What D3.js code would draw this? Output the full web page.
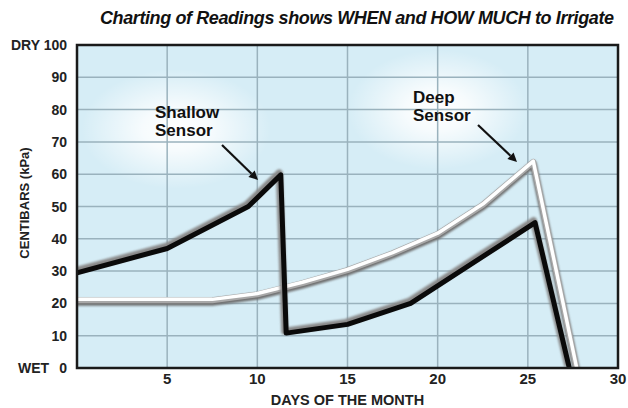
<!DOCTYPE html>
<html>
<head>
<meta charset="utf-8">
<script src="https://cdn.jsdelivr.net/npm/d3@7"></script>
<style>
  body { margin: 0; background: #fff; }
  svg { display: block; }
</style>
</head>
<body>
<script>
// readings
const shallowDays = [0, 5, 9.5, 11.3, 11.6, 15, 18.5, 25.4, 27.3];
const shallowKpa  = [29.5, 37, 50, 59.8, 10.8, 13.5, 20, 45, 0];
const deepDays = [0, 7.5, 10, 12.5, 15, 17.5, 20, 22.5, 25.3, 27.7];
const deepKpa  = [21, 21, 22.8, 26.3, 30.3, 35.5, 41.5, 50.5, 63.8, 0];
const xTicks = [5, 10, 15, 20, 25, 30];
const yTicks = [0, 10, 20, 30, 40, 50, 60, 70, 80, 90, 100];
const yTickLabels = ["0", "10", "20", "30", "40", "50", "60", "70", "80", "90", "DRY 100"];

const W = 628, H = 408;
const margin = { top: 45, right: 10, bottom: 40, left: 77 };
const width = W - margin.left - margin.right,
      height = H - margin.top - margin.bottom;

const svg = d3.select("body").append("svg")
    .attr("width", W).attr("height", H);

const defs = svg.append("defs");
const glow = defs.append("radialGradient").attr("id", "glow");
glow.append("stop").attr("offset", "0%").attr("stop-color", "#ffffff").attr("stop-opacity", 1);
glow.append("stop").attr("offset", "35%").attr("stop-color", "#ffffff").attr("stop-opacity", 0.8);
glow.append("stop").attr("offset", "100%").attr("stop-color", "#ffffff").attr("stop-opacity", 0);
defs.append("filter").attr("id", "blur")
    .append("feGaussianBlur").attr("stdDeviation", 1.2);
defs.append("clipPath").attr("id", "clip")
    .append("rect").attr("width", width).attr("height", height);

svg.append("text")
    .attr("x", 100).attr("y", 24)
    .attr("font-family", "Liberation Sans, Arial, sans-serif")
    .attr("font-weight", "bold").attr("font-style", "italic")
    .attr("font-size", 18).attr("letter-spacing", -0.4).attr("fill", "#111")
    .text("Charting of Readings shows WHEN and HOW MUCH to Irrigate");

const g = svg.append("g")
    .attr("transform", "translate(" + margin.left + "," + margin.top + ")");

const x = d3.scaleLinear().domain([0, 30]).range([0, width]);
const y = d3.scaleLinear().domain([0, 100]).range([height, 0]);

g.append("rect").attr("width", width).attr("height", height).attr("fill", "#d6edf6");

const pg = g.append("g").attr("clip-path", "url(#clip)");
// white glow behind the labels
pg.append("ellipse").attr("cx", x(5.5)).attr("cy", y(74)).attr("rx", 95).attr("ry", 60).attr("fill", "url(#glow)");
pg.append("ellipse").attr("cx", x(20)).attr("cy", y(80)).attr("rx", 90).attr("ry", 60).attr("fill", "url(#glow)");

// grid
pg.selectAll(".vg").data(xTicks.slice(0, -1)).enter().append("line")
    .attr("x1", d => x(d)).attr("x2", d => x(d))
    .attr("y1", 0).attr("y2", height)
    .attr("stroke", "#9ab2bd").attr("stroke-width", 1.5);
pg.selectAll(".hg").data(yTicks.slice(1, -1)).enter().append("line")
    .attr("x1", 0).attr("x2", width)
    .attr("y1", d => y(d)).attr("y2", d => y(d))
    .attr("stroke", "#9ab2bd").attr("stroke-width", 1.5);

const line = d3.line().x(d => x(d[0])).y(d => y(d[1]));
const deep = deepDays.map((d, i) => [d, deepKpa[i]]);
const shallow = shallowDays.map((d, i) => [d, shallowKpa[i]]);

// deep sensor: white with grey edge
pg.append("path").datum(deep).attr("d", line)
    .attr("transform", "translate(0,2)")
    .attr("fill", "none").attr("stroke", "#6f6f6f").attr("stroke-width", 7)
    .attr("stroke-linejoin", "round").attr("filter", "url(#blur)");
pg.append("path").datum(deep).attr("d", line)
    .attr("fill", "none").attr("stroke", "#a8a8a8").attr("stroke-width", 6)
    .attr("stroke-linejoin", "round");
pg.append("path").datum(deep).attr("d", line)
    .attr("transform", "translate(0,-0.8)")
    .attr("fill", "none").attr("stroke", "#ffffff").attr("stroke-width", 3.5)
    .attr("stroke-linejoin", "round");

// shallow sensor: black with grey shadow
pg.append("path").datum(shallow).attr("d", line)
    .attr("transform", "translate(-1.5,-2)")
    .attr("fill", "none").attr("stroke", "#8a8a8a").attr("stroke-width", 7)
    .attr("stroke-linejoin", "round").attr("filter", "url(#blur)");
pg.append("path").datum(shallow).attr("d", line)
    .attr("fill", "none").attr("stroke", "#0a0a0a").attr("stroke-width", 5)
    .attr("stroke-linejoin", "round");

// frame
g.append("rect").attr("width", width).attr("height", height)
    .attr("fill", "none").attr("stroke", "#1a1a1a").attr("stroke-width", 2.5);

// annotations
const labelFont = "Liberation Sans, Arial, sans-serif";
function note(lines, tx, ty, from, to) {
    const t = g.append("text")
        .attr("font-family", labelFont).attr("font-weight", "bold")
        .attr("font-size", 17).attr("fill", "#111");
    lines.forEach((s, i) => t.append("tspan").attr("x", tx).attr("y", ty + i * 18).text(s));
    const ang = Math.atan2(to[1] - from[1], to[0] - from[0]);
    const hl = 9, hw = 4.5;
    const bx = to[0] - hl * Math.cos(ang), by = to[1] - hl * Math.sin(ang);
    g.append("line")
        .attr("x1", from[0]).attr("y1", from[1]).attr("x2", bx).attr("y2", by)
        .attr("stroke", "#111").attr("stroke-width", 2.2);
    g.append("path")
        .attr("d", "M" + to[0] + "," + to[1] +
            "L" + (bx + hw * Math.sin(ang)) + "," + (by - hw * Math.cos(ang)) +
            "L" + (bx - hw * Math.sin(ang)) + "," + (by + hw * Math.cos(ang)) + "Z")
        .attr("fill", "#111");
}
note(["Shallow", "Sensor"], 78, 73, [145, 100], [181, 135]);
note(["Deep", "Sensor"], 336, 58, [401, 80], [440, 117]);

// axes labels
const tickFont = "Liberation Sans, Arial, sans-serif";
g.selectAll(".yt").data(yTicks).enter().append("text")
    .attr("x", -10).attr("y", d => y(d) + 5)
    .attr("text-anchor", "end")
    .attr("font-family", tickFont).attr("font-weight", "bold")
    .attr("font-size", 14).attr("fill", "#222")
    .text((d, i) => yTickLabels[i]);
g.append("text")
    .attr("x", -59).attr("y", y(0) + 5)
    .attr("font-family", tickFont).attr("font-weight", "bold")
    .attr("font-size", 14).attr("fill", "#222")
    .text("WET");

g.selectAll(".xt").data(xTicks).enter().append("text")
    .attr("x", d => x(d)).attr("y", height + 16)
    .attr("text-anchor", "middle")
    .attr("font-family", tickFont).attr("font-weight", "bold")
    .attr("font-size", 15).attr("fill", "#222")
    .text(d => d);

g.append("text")
    .attr("x", x(15)).attr("y", height + 37)
    .attr("text-anchor", "middle")
    .attr("font-family", tickFont).attr("font-weight", "bold")
    .attr("font-size", 14.5).attr("fill", "#222")
    .text("DAYS OF THE MONTH");

g.append("text")
    .attr("transform", "translate(-48,158) rotate(-90)")
    .attr("text-anchor", "middle")
    .attr("font-family", tickFont).attr("font-weight", "bold")
    .attr("font-size", 13).attr("fill", "#222")
    .text("CENTIBARS (kPa)");
</script>
</body>
</html>
